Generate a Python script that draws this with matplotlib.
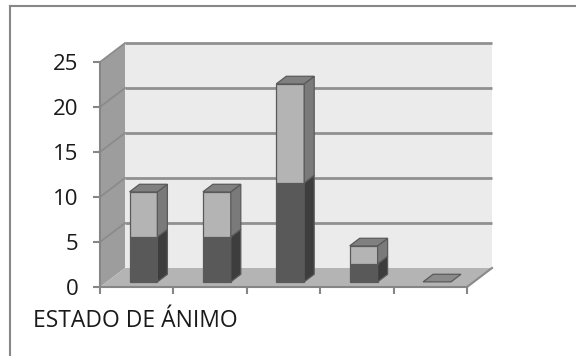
import matplotlib
matplotlib.use("Agg")
import matplotlib.pyplot as plt
from matplotlib.patches import Polygon
from matplotlib.lines import Line2D

# ---- data ----
categories = ["", "", "", "", ""]
serie_1 = [5, 5, 11, 2, 0]   # dark segment (bottom)
serie_2 = [5, 5, 11, 2, 0]   # light segment (top)
y_ticks = [0, 5, 10, 15, 20, 25]
x_label = "ESTADO DE ÁNIMO"

plt.rcParams['font.family'] = ['Open Sans', 'DejaVu Sans']

W, H = 576, 356
fig = plt.figure(figsize=(W / 100, H / 100), dpi=100)
fig.patch.set_facecolor("white")

n = len(categories)
ymax = 25
ax = fig.add_axes([100 / W, 69 / H, 367 / W, 225 / H])
ax.set_xlim(0, n)
ax.set_ylim(0, ymax)
ax.set_facecolor("none")

# oblique depth offsets in data units
px_x = n / 367.0
px_y = ymax / 225.0
DX = 25 * px_x
DY = 19 * px_y

edge = "#5a5a5a"
# walls and floor
ax.add_patch(Polygon([(DX, DY), (n + DX, DY), (n + DX, ymax + DY), (DX, ymax + DY)],
                     closed=True, facecolor="#ebebeb", edgecolor="none", zorder=1, clip_on=False))
ax.add_patch(Polygon([(0, 0), (DX, DY), (DX, ymax + DY), (0, ymax)],
                     closed=True, facecolor="#9d9d9d", edgecolor="none", zorder=1, clip_on=False))
for v in y_ticks[1:]:
    ax.plot([DX, n + DX], [v + DY, v + DY], color="#909090", lw=2.0, zorder=2, clip_on=False,
            solid_capstyle="butt")
    ax.plot([0, DX], [v, v + DY], color="#8a8a8a", lw=1.2, zorder=2, clip_on=False)
ax.add_patch(Polygon([(0, 0), (n, 0), (n + DX, DY), (DX, DY)],
                     closed=True, facecolor="#b4b4b4", edgecolor="none", zorder=3, clip_on=False))
ax.plot([n, n + DX], [0, DY], color="#8a8a8a", lw=1.5, zorder=3, clip_on=False)

# bars
bw = 0.38
f0, f1 = 0.27, 0.67
styles = [("#595959", "#3d3d3d", "#555555"), ("#b4b4b4", "#7a7a7a", "#808080")]
for i in range(n):
    cx = i + 0.5
    x0 = cx - bw / 2 + f0 * DX
    x1 = cx + bw / 2 + f0 * DX
    oy = f0 * DY
    ddx = (f1 - f0) * DX
    ddy = (f1 - f0) * DY
    base = 0.0
    segs = [serie_1[i], serie_2[i]]
    total = sum(segs)
    if total == 0:
        ax.add_patch(Polygon([(x0, oy), (x1, oy), (x1 + ddx, oy + ddy), (x0 + ddx, oy + ddy)],
                             closed=True, facecolor="#8a8a8a", edgecolor=edge, lw=0.9,
                             zorder=5, clip_on=False))
        continue
    for s, val in enumerate(segs):
        if val == 0:
            continue
        front, side, top = styles[s]
        b, t = base + oy, base + val + oy
        ax.add_patch(Polygon([(x0, b), (x1, b), (x1, t), (x0, t)], closed=True,
                             facecolor=front, edgecolor=edge, lw=0.9, zorder=5, clip_on=False))
        ax.add_patch(Polygon([(x1, b), (x1 + ddx, b + ddy), (x1 + ddx, t + ddy), (x1, t)],
                             closed=True, facecolor=side, edgecolor=edge, lw=0.9, zorder=5,
                             clip_on=False))
        base += val
    top = styles[1][2] if serie_2[i] else styles[0][2]
    t = total + oy
    ax.add_patch(Polygon([(x0, t), (x1, t), (x1 + ddx, t + ddy), (x0 + ddx, t + ddy)],
                         closed=True, facecolor=top, edgecolor=edge, lw=0.9, zorder=6,
                         clip_on=False))

# axes
for sp in ["top", "right"]:
    ax.spines[sp].set_visible(False)
for sp in ["left", "bottom"]:
    ax.spines[sp].set_color("#868686")
    ax.spines[sp].set_linewidth(1.5)
    ax.spines[sp].set_zorder(4)
ax.set_yticks(y_ticks)
ax.set_yticklabels([str(v) for v in y_ticks])
ax.set_xticks(range(n + 1))
ax.set_xticklabels([])
ax.tick_params(axis="both", direction="out", length=5, width=1.5, color="#868686")
ax.tick_params(axis="y", pad=10.5, labelsize=16, labelcolor="#1a1a1a")

fig.text(33 / W, 1 - 321 / H, x_label, fontsize=16.5, color="#1a1a1a", ha="left", va="center")

# outer border (partially visible)
fig.add_artist(Line2D([10 / W, 1.0], [1 - 5.5 / H, 1 - 5.5 / H], color="#878787", lw=1.5,
                      transform=fig.transFigure))
fig.add_artist(Line2D([10 / W, 10 / W], [0, 1 - 5.5 / H], color="#878787", lw=1.5,
                      transform=fig.transFigure))

fig.savefig("out.png", dpi=100)
